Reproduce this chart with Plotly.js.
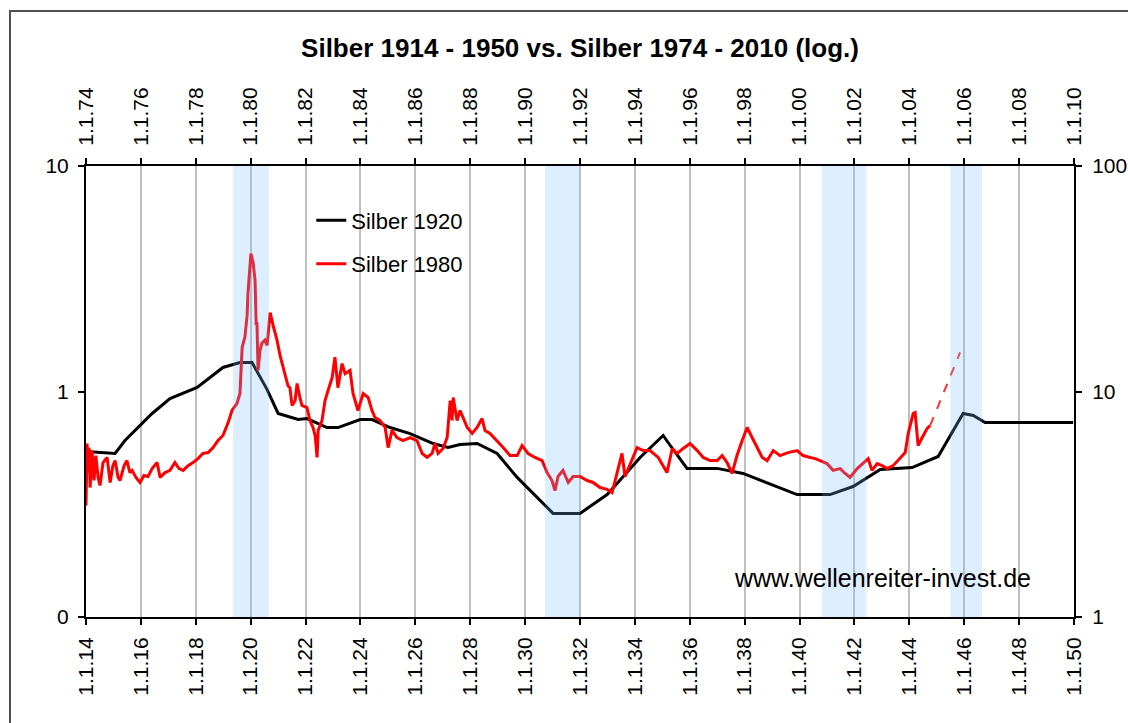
<!DOCTYPE html>
<html>
<head>
<meta charset="utf-8">
<script src="https://cdn.plot.ly/plotly-3.0.1.min.js"></script>
<style>
  html, body { margin:0; padding:0; background:#fff; overflow:hidden; }
  #chart { position:absolute; left:0; top:0; width:1128px; height:723px; }
  #frame { position:absolute; left:9px; top:10px; width:1300px; height:900px; border:2px solid #505050; pointer-events:none; }
</style>
</head>
<body>
<div id="chart"></div>
<div id="frame"></div>
<script>
// ---- Silber 1920 (1914-1950, left axis) ----
var years1920 = [1914.00,1915.06,1915.42,1916.41,1917.06,1918.05,1918.99,1919.61,1920.05,1920.60,1921.00,1921.73,1922.05,1922.78,1923.18,1923.99,1924.42,1925.08,1925.81,1926.65,1927.19,1927.63,1928.25,1928.98,1929.71,1931.02,1932.00,1932.99,1934.19,1935.03,1935.21,1935.90,1937.00,1937.94,1939.91,1941.11,1941.95,1942.94,1944.10,1945.05,1945.96,1946.33,1946.76,1949.97];
var silber1920 = [0.542,0.531,0.606,0.799,0.931,1.042,1.278,1.345,1.345,1.02,0.799,0.751,0.759,0.692,0.692,0.751,0.751,0.692,0.651,0.588,0.565,0.582,0.588,0.531,0.416,0.288,0.288,0.349,0.510,0.638,0.594,0.456,0.456,0.433,0.349,0.349,0.379,0.451,0.460,0.515,0.799,0.783,0.729,0.729];

// ---- Silber 1980 (1974-2010, right axis) ----
var years1980 = [1974.00,1974.04,1974.07,1974.11,1974.15,1974.22,1974.29,1974.36,1974.44,1974.51,1974.62,1974.77,1974.88,1974.98,1975.06,1975.17,1975.24,1975.39,1975.49,1975.60,1975.68,1975.82,1975.97,1976.11,1976.26,1976.41,1976.59,1976.70,1976.88,1977.06,1977.24,1977.39,1977.54,1977.72,1977.90,1978.08,1978.26,1978.45,1978.63,1978.81,1978.99,1979.18,1979.32,1979.50,1979.61,1979.69,1979.79,1979.87,1979.90,1979.98,1980.01,1980.09,1980.16,1980.20,1980.23,1980.27,1980.34,1980.41,1980.52,1980.60,1980.71,1980.82,1980.96,1981.07,1981.18,1981.29,1981.36,1981.43,1981.51,1981.62,1981.69,1981.80,1981.87,1982.05,1982.16,1982.27,1982.35,1982.42,1982.46,1982.60,1982.71,1982.82,1982.97,1983.07,1983.18,1983.33,1983.44,1983.62,1983.73,1983.91,1984.10,1984.28,1984.42,1984.53,1984.71,1984.90,1985.01,1985.15,1985.33,1985.55,1985.81,1986.06,1986.25,1986.43,1986.61,1986.72,1986.83,1987.01,1987.16,1987.27,1987.34,1987.38,1987.52,1987.63,1987.74,1987.89,1988.07,1988.25,1988.43,1988.54,1988.72,1988.98,1989.20,1989.45,1989.71,1989.89,1990.11,1990.36,1990.62,1990.80,1990.98,1991.09,1991.20,1991.38,1991.57,1991.75,1992.00,1992.26,1992.48,1992.73,1992.99,1993.17,1993.35,1993.53,1993.64,1993.83,1994.08,1994.30,1994.55,1994.85,1995.03,1995.17,1995.36,1995.54,1995.76,1996.01,1996.27,1996.49,1996.74,1997.00,1997.18,1997.36,1997.54,1997.72,1997.91,1998.09,1998.27,1998.45,1998.64,1998.82,1999.04,1999.29,1999.58,1999.91,2000.13,2000.39,2000.57,2000.75,2001.00,2001.22,2001.48,2001.66,2001.84,2002.10,2002.32,2002.50,2002.64,2002.83,2003.01,2003.19,2003.41,2003.67,2003.85,2003.96,2004.14,2004.21,2004.32,2004.47,2004.65,2004.76];
var silber1980 = [3.12,5.88,4.47,5.64,3.75,5.47,4.03,5.20,4.16,3.83,4.84,5.10,3.95,4.69,4.94,4.16,4.03,4.69,4.94,4.37,4.47,4.16,3.95,4.24,4.20,4.55,4.84,4.16,4.37,4.47,4.84,4.55,4.47,4.69,4.84,5.04,5.31,5.36,5.64,6.06,6.38,7.28,8.24,8.85,9.80,15.7,17.4,21.7,27.2,35.5,40.9,37.3,31.1,20.0,20.0,12.4,15.2,16.4,16.9,16.0,22.4,19.6,16.9,14.45,12.8,11.4,10.6,10.4,8.67,9.12,10.85,9.31,8.67,8.49,7.44,6.93,6.38,5.10,6.72,7.44,9.12,10.1,11.54,14.2,10.4,13.3,12.0,12.4,9.80,8.24,9.80,9.41,8.24,7.67,7.44,6.93,5.64,6.72,6.25,6.06,6.25,6.06,5.31,5.10,5.31,5.88,5.31,5.59,6.25,9.12,7.44,9.41,7.44,8.24,7.67,6.93,6.52,6.93,7.59,6.72,6.52,6.06,5.64,5.20,5.20,5.76,5.31,5.10,4.94,4.37,4.03,3.64,4.20,4.47,3.95,4.20,4.20,4.03,3.95,3.75,3.68,3.56,4.33,5.31,4.20,4.79,5.64,5.47,5.47,5.10,4.69,4.37,5.59,5.31,5.59,5.88,5.47,5.10,4.94,4.94,5.20,4.84,4.33,5.20,6.06,6.93,6.25,5.64,5.10,4.94,5.47,5.20,5.36,5.47,5.20,5.10,5.04,4.94,4.79,4.47,4.55,4.33,4.16,4.55,4.79,5.04,4.47,4.79,4.69,4.55,4.69,5.10,5.36,6.52,7.99,8.07,5.76,6.25,6.86,7.07];

// dashed projection of Silber 1980
var yearsProj = [2004.76, 2005.85];
var silberProj = [7.07, 14.9];

// shaded periods (bottom axis years)
var bandStart = [1919.36, 1930.73, 1940.82, 1945.49];
var bandEnd   = [1920.67, 1932.00, 1942.43, 1946.65];

// tick labels
var bottomTicks = [1914,1916,1918,1920,1922,1924,1926,1928,1930,1932,1934,1936,1938,1940,1942,1944,1946,1948,1950];
var bottomLabels = ['1.1.14','1.1.16','1.1.18','1.1.20','1.1.22','1.1.24','1.1.26','1.1.28','1.1.30','1.1.32','1.1.34','1.1.36','1.1.38','1.1.40','1.1.42','1.1.44','1.1.46','1.1.48','1.1.50'];
var topTicks = [1974,1976,1978,1980,1982,1984,1986,1988,1990,1992,1994,1996,1998,2000,2002,2004,2006,2008,2010];
var topLabels = ['1.1.74','1.1.76','1.1.78','1.1.80','1.1.82','1.1.84','1.1.86','1.1.88','1.1.90','1.1.92','1.1.94','1.1.96','1.1.98','1.1.00','1.1.02','1.1.04','1.1.06','1.1.08','1.1.10'];
var leftTicks = [0.1, 1, 10];
var leftLabels = ['0', '1', '10'];
var rightTicks = [1, 10, 100];
var rightLabels = ['1', '10', '100'];

var FONT = 'Liberation Sans, Arial, sans-serif';

var traces = [
  { x: years1920, y: silber1920, xaxis: 'x', yaxis: 'y', type: 'scatter', mode: 'lines',
    name: 'Silber 1920', legendgroup: 'a', line: { color: '#000000', width: 3 } },
  { x: years1980, y: silber1980, xaxis: 'x2', yaxis: 'y2', type: 'scatter', mode: 'lines',
    name: 'Silber 1980', legendgroup: 'b', line: { color: '#ff0000', width: 3 } },
  { x: yearsProj, y: silberProj, xaxis: 'x2', yaxis: 'y2', type: 'scatter', mode: 'lines',
    name: 'Silber 1980 Projektion', showlegend: false, line: { color: '#ff3030', width: 2, dash: 'dash' } }
];

var shapes = bandStart.map(function (s, i) {
  return { type: 'rect', xref: 'x', yref: 'paper', x0: s, x1: bandEnd[i], y0: 0, y1: 1,
           fillcolor: 'rgb(119,187,255)', opacity: 0.25, line: { width: 0 }, layer: 'above' };
});

var axisCommon = {
  showline: true, linecolor: '#000', linewidth: 2, ticks: 'outside', ticklen: 6,
  tickwidth: 2, tickcolor: '#000', zeroline: false, tickmode: 'array',
  tickfont: { family: FONT, size: 21, color: '#000' }, fixedrange: true
};

var layout = {
  width: 1128, height: 723,
  margin: { l: 86, r: 54, t: 166, b: 106, pad: 0 },
  paper_bgcolor: '#ffffff', plot_bgcolor: '#ffffff',
  title: { text: 'Silber 1914 - 1950 vs. Silber 1974 - 2010 (log.)',
           font: { family: FONT, size: 26, color: '#000', weight: 'bold' },
           x: 0.5, xref: 'paper', y: 0.934, yref: 'container', yanchor: 'middle' },
  xaxis: Object.assign({}, axisCommon, {
    range: [1914, 1950], tickvals: bottomTicks, ticktext: bottomLabels, tickangle: -90,
    showgrid: true, gridcolor: '#c0c0c0', gridwidth: 2, ticklabelstandoff: 4 }),
  xaxis2: Object.assign({}, axisCommon, {
    overlaying: 'x', side: 'top', range: [1974, 2010], tickvals: topTicks, ticktext: topLabels,
    tickangle: -90, showgrid: false, ticklabelstandoff: 8 }),
  yaxis: Object.assign({}, axisCommon, {
    type: 'log', range: [-1, 1], tickvals: leftTicks, ticktext: leftLabels, showgrid: false,
    ticklabelstandoff: 5 }),
  yaxis2: Object.assign({}, axisCommon, {
    overlaying: 'y', side: 'right', type: 'log', range: [0, 2], tickvals: rightTicks,
    ticktext: rightLabels, showgrid: false, ticklabelstandoff: 6 }),
  showlegend: true,
  legend: { x: 0.228, y: 0.926, xanchor: 'left', yanchor: 'top', bgcolor: 'rgba(0,0,0,0)',
            font: { family: FONT, size: 22, color: '#000' }, traceorder: 'grouped', tracegroupgap: 12 },
  shapes: shapes,
  annotations: [
    { text: 'www.wellenreiter-invest.de', xref: 'paper', yref: 'paper', x: 0.806, y: 0.0865,
      xanchor: 'center', yanchor: 'middle', showarrow: false,
      font: { family: FONT, size: 25, color: '#000' } }
  ]
};

Plotly.newPlot('chart', traces, layout, { displayModeBar: false, staticPlot: true });
</script>
</body>
</html>
